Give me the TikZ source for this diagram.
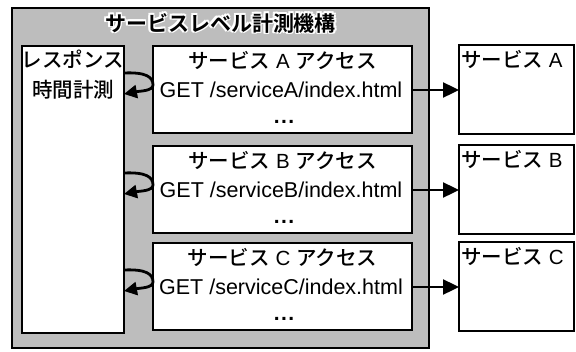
\documentclass[tikz,border=0pt]{standalone}
\usepackage{fontspec}
\setmainfont{Liberation Sans}
\newfontfamily\jfont{Noto Sans CJK JP Medium}
\newfontfamily\jboldfont{Noto Sans CJK JP Bold}
\usetikzlibrary{arrows.meta}
\newcommand\J[1]{{\jfont #1}}

\begin{document}
\begin{tikzpicture}[x=1pt,y=-1pt,
  box/.style={draw, line width=1.8pt, fill=white, inner sep=0pt, outer sep=0pt, anchor=north west},
  txt/.style={font=\fontsize{20.5}{22}\selectfont, inner sep=0pt, anchor=base},
  conn/.style={line width=2.4pt, -{Triangle[length=16pt,width=15pt]}},
  loopconn/.style={line width=2.8pt, -{Triangle[length=13pt,width=13pt]}},
  ttlfont/.style={font=\fontsize{21}{22}\selectfont\jboldfont},
]
\useasboundingbox (0,0) rectangle (576,351);

% shaded frame of the measuring unit
\node[box, fill=black!26, minimum width=417pt, minimum height=340pt] (frame) at (12,8) {};

% frame title with a white halo
\foreach \dx/\dy [count=\k] in {-1.7/0,1.7/0,0/-1.7,0/1.7,-1.2/-1.2,1.2/-1.2,-1.2/1.2,1.2/1.2}
  \node[txt, ttlfont, text=white] (halo\k) at (220.5+\dx,31+\dy) {サービスレベル計測機構};
\node[txt, ttlfont] (title) at (220.5,31) {サービスレベル計測機構};

% response time measurement block
\node[box, minimum width=102pt, minimum height=287pt] (timer) at (22,46) {};
\node[txt] (timerA) at (73,67) {\J{レスポンス}};
\node[txt] (timerB) at (73,97) {\J{時間計測}};

% access blocks, target services and their links
\foreach \s/\t in {A/46,B/146,C/243} {
  \node[box, minimum width=259pt, minimum height=87pt] (acc\s) at (153,\t) {};
  \node[txt] (ttl\s) at (282.5,\t+22) {\J{サービス} \s\ \J{アクセス}};
  \node[txt, font=\fontsize{21.5}{22}\selectfont] (get\s) at (281,\t+51) {GET /service\s/index.html};
  \node[txt, font=\fontsize{21}{22}\selectfont\bfseries] (dots\s) at (284,\t+77) {.\kern1.5pt.\kern1.5pt.};
  \node[box, minimum width=115pt, minimum height=89pt] (srv\s) at (459,\t-1) {};
  \node[txt, anchor=base west] (lbl\s) at (461,\t+21) {\J{サービス} \s};
  \coordinate (lnk\s) at (0,\t+44);
  \draw[conn] (acc\s.east |- lnk\s) -- (srv\s.west |- lnk\s);
  \coordinate (up\s) at (0,\t+27);
  \coordinate (mid\s) at (0,\t+39);
  \coordinate (dn\s) at (0,\t+48);
  \draw[loopconn] (timer.east |- up\s) .. controls +(22,-1) and +(0,-8) .. (acc\s.west |- mid\s)
     .. controls +(0,6) and +(16,-3) .. (timer.east |- dn\s);
}
\end{tikzpicture}
\end{document}
